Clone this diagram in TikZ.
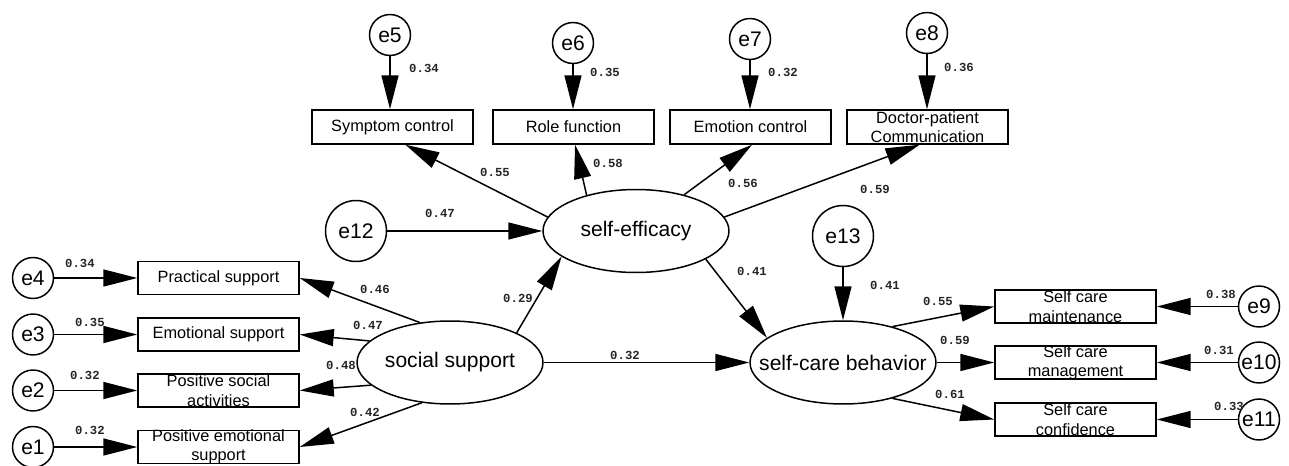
\documentclass[tikz,border=0pt]{standalone}
\usepackage{fontspec}
\setmainfont{Liberation Sans}
\newfontfamily\numfont{Liberation Mono}
\usetikzlibrary{arrows.meta,shapes.geometric}
\begin{document}
\begin{tikzpicture}[x=0.02cm,y=-0.02cm,
  line width=0.85pt,
  arr/.style={-{Triangle[length=0.68cm,width=0.34cm]}},
  obs/.style={draw, rectangle, minimum width=3.22cm, minimum height=0.66cm, inner sep=0pt, font=\fontsize{9.3}{11}\selectfont},
  obstop/.style={obs, minimum height=0.68cm},
  obstxt/.style={inner sep=0pt, align=center, font=\fontsize{9.3}{11}\selectfont},
  lat/.style={draw, ellipse, minimum width=3.72cm, minimum height=1.66cm, inner sep=0pt, font=\fontsize{12}{14}\selectfont},
  err/.style={draw, circle, minimum size=0.82cm, inner sep=0pt, font=\fontsize{12}{14}\selectfont},
  errbig/.style={err, minimum size=1.22cm},
  coef/.style={inner sep=0pt, text=black!85, font=\numfont\bfseries\fontsize{7}{8}\selectfont},
]
\useasboundingbox (0,0) rectangle (1289,466);

% top indicators
\node[err] (e5) at (390,35) {e5};
\node[err] (e6) at (573,43) {e6};
\node[err] (e7) at (750,39) {e7};
\node[err] (e8) at (927,33) {e8};
\node[obstop] (sym) at (392.5,127) {Symptom control};
\node[obstop] (role) at (573.5,127) {Role function};
\node[obstop] (emo) at (750.5,127) {Emotion control};
\node[obstop] (doc) at (927.5,127) {};
\node[obstxt] (doct) at (doc) {Doctor-patient\\Communication};

% latent variables
\node[lat] (se) at (636,231) {\makebox[0pt]{self-efficacy}};
\node[lat] (ss) at (450,362.5) {\makebox[0pt]{social support}};
\node[lat] (sc) at (843,362.5) {\makebox[0pt]{self-care behavior}};
\node[errbig] (e12) at (356,231) {e12};
\node[errbig] (e13) at (843,236) {e13};

% left indicators
\node[obs] (ps) at (218.5,278) {Practical support};
\node[obs] (es) at (218.5,334.5) {Emotional support};
\node[obs] (psa) at (218.5,390.5) {};
\node[obstxt] (psat) at (psa) {Positive social\\activities};
\node[obs] (pes) at (218.5,447) {};
\node[obstxt] (pest) at (pes) {Positive emotional\\support};
\node[err] (e4) at (33,278) {e4};
\node[err] (e3) at (33,334.5) {e3};
\node[err] (e2) at (33,390.5) {e2};
\node[err] (e1) at (33,447) {e1};

% right indicators
\node[obs] (bm) at (1075.5,306.5) {};
\node[obstxt] (bmt) at (bm) {Self care\\maintenance};
\node[obs] (bg) at (1075.5,362.5) {};
\node[obstxt] (bgt) at (bg) {Self care\\management};
\node[obs] (bc) at (1075.5,419.5) {};
\node[obstxt] (bct) at (bc) {Self care\\confidence};
\node[err] (e9) at (1259,306.5) {e9};
\node[err] (e10) at (1259,362.5) {e10};
\node[err] (e11) at (1259,419.5) {e11};

% arrows: errors
\draw[arr] (e5.south) -- (e5.south |- sym.north);
\draw[arr] (e6.south) -- (e6.south |- role.north);
\draw[arr] (e7.south) -- (e7.south |- emo.north);
\draw[arr] (e8.south) -- (e8.south |- doc.north);
\draw[arr] (e12.east) -- (se.west);
\draw[arr] (e13.south) -- (sc.north);
\draw[arr] (e4.east) -- (ps.west);
\draw[arr] (e3.east) -- (es.west);
\draw[arr] (e2.east) -- (psa.west);
\draw[arr] (e1.east) -- (pes.west);
\draw[arr] (e9.west) -- (bm.east);
\draw[arr] (e10.west) -- (bg.east);
\draw[arr] (e11.west) -- (bc.east);

% arrows: loadings and paths
\draw[arr] (se.171) -- (sym.-54);
\draw[arr] (se.144) -- (role.-85);
\draw[arr] (se.37) -- (emo.-85);
\draw[arr] (se.9) -- (doc.-114);
\draw[arr] (ss.127) -- (ps.east);
\draw[arr] (ss.165) -- (es.east);
\draw[arr] (ss.196) -- (psa.east);
\draw[arr] (ss.235) -- (pes.east);
\draw[arr] (ss.24) -- (se.199);
\draw[arr] (ss.east) -- (sc.west);
\draw[arr] (se.338) -- (sc.162);
\draw[arr] (sc.36) -- (bm.west);
\draw[arr] (sc.east) -- (bg.west);
\draw[arr] (sc.-36) -- (bc.west);

% coefficients
\node[coef] (c1) at (424,68) {0.34};
\node[coef] (c2) at (605,72) {0.35};
\node[coef] (c3) at (783,72) {0.32};
\node[coef] (c4) at (959,67) {0.36};
\node[coef] (c5) at (440,213) {0.47};
\node[coef] (c6) at (495,172) {0.55};
\node[coef] (c7) at (608,163) {0.58};
\node[coef] (c8) at (743,183) {0.56};
\node[coef] (c9) at (875,189) {0.59};
\node[coef] (c10) at (752,271) {0.41};
\node[coef] (c11) at (885,285) {0.41};
\node[coef] (c12) at (938,301) {0.55};
\node[coef] (c13) at (955,340) {0.59};
\node[coef] (c14) at (950,394) {0.61};
\node[coef] (c15) at (1221,294) {0.38};
\node[coef] (c16) at (1219,350) {0.31};
\node[coef] (c17) at (1229,406) {0.33};
\node[coef] (c18) at (80,263) {0.34};
\node[coef] (c19) at (90,322) {0.35};
\node[coef] (c20) at (85,375) {0.32};
\node[coef] (c21) at (90,430) {0.32};
\node[coef] (c22) at (375,289) {0.46};
\node[coef] (c23) at (368,325) {0.47};
\node[coef] (c24) at (341,365) {0.48};
\node[coef] (c25) at (365,412) {0.42};
\node[coef] (c26) at (518,298) {0.29};
\node[coef] (c27) at (625,355) {0.32};
\end{tikzpicture}
\end{document}
